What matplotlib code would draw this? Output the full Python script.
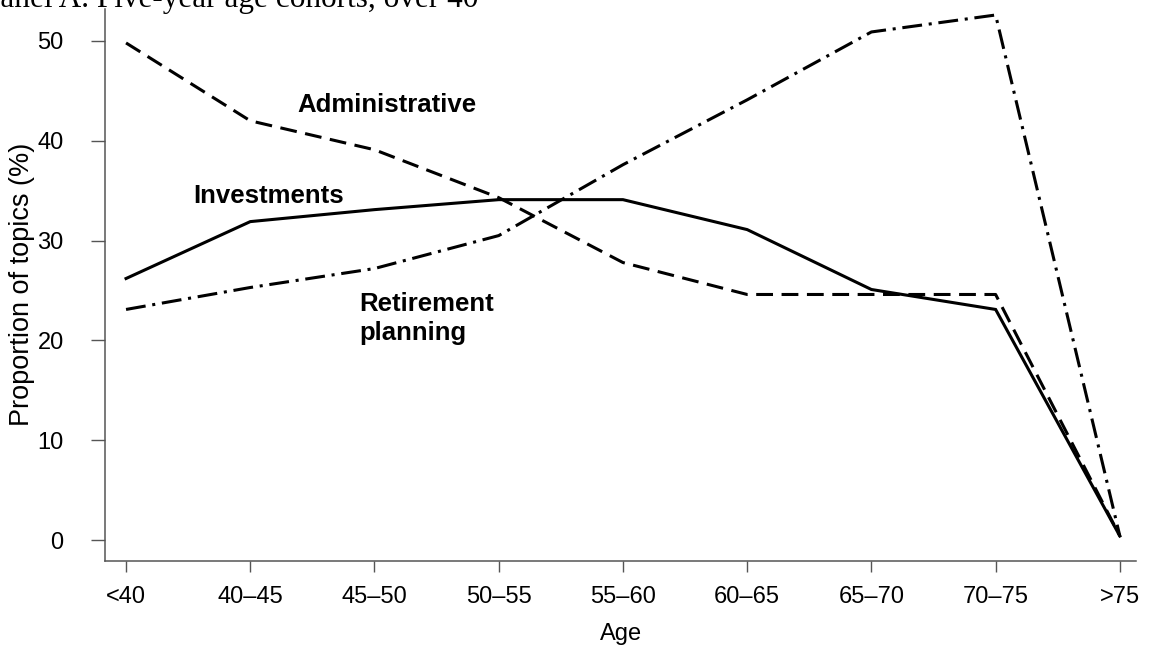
import matplotlib
matplotlib.use("Agg")
import matplotlib.pyplot as plt

plt.rcParams['font.family'] = ['Liberation Sans', 'DejaVu Sans']

ages = ['<40', '40–45', '45–50', '50–55', '55–60', '60–65', '65–70', '70–75', '>75']
administrative = [49.8, 42.0, 39.1, 34.3, 27.8, 24.6, 24.6, 24.6, 0.4]
investments = [26.2, 31.9, 33.1, 34.1, 34.1, 31.1, 25.1, 23.1, 0.4]
retirement = [23.1, 25.3, 27.2, 30.5, 37.6, 44.1, 50.9, 52.6, 0.4]
yticks = [0, 10, 20, 30, 40, 50]

W, H = 1149, 653
fig = plt.figure(figsize=(W / 100, H / 100), dpi=100)
ax = fig.add_axes([105.3 / W, 1 - 560.7 / H, (1136 - 105.3) / W, (560.7 - 9) / H])

x = list(range(len(ages)))
ax.plot(x, investments, color='black', lw=2.2, solid_joinstyle='miter')
ax.plot(x, administrative, color='black', lw=2.2, dashes=(5.5, 2.8))
ax.plot(x, retirement, color='black', lw=2.2, dashes=(6.5, 2.2, 1, 2.2))

ax.set_xlim(-0.167, 8.13)
ax.set_ylim(-2.07, 53.2)
ax.set_xticks(x)
ax.set_xticklabels(ages)
ax.set_yticks(yticks)

for side in ['top', 'right']:
    ax.spines[side].set_visible(False)
for side in ['left', 'bottom']:
    ax.spines[side].set_color('#555555')
    ax.spines[side].set_linewidth(1.1)

ax.tick_params(axis='y', length=10, width=1, color='#555555', pad=20, labelsize=17)
ax.tick_params(axis='x', length=8, width=1, color='#555555', pad=10, labelsize=17)

ax.set_xlabel('Age', fontsize=17, labelpad=11)
ax.set_ylabel('Proportion of topics (%)', fontsize=19.5, labelpad=2)

ax.text(2.10, 42.9, 'Administrative', fontsize=18.5, fontweight='bold', ha='center', va='baseline')
ax.text(0.54, 33.8, 'Investments', fontsize=18.5, fontweight='bold', ha='left', va='baseline')
ax.text(1.88, 22.9, 'Retirement', fontsize=18.5, fontweight='bold', ha='left', va='baseline')
ax.text(1.88, 20.0, 'planning', fontsize=18.5, fontweight='bold', ha='left', va='baseline')

fig.text(478 / W, 1 - 7 / H, 'Panel A. Five-year age cohorts, over 40', family='Liberation Serif',
         fontsize=22.5, ha='right', va='baseline')

fig.savefig('out.png', dpi=100)
